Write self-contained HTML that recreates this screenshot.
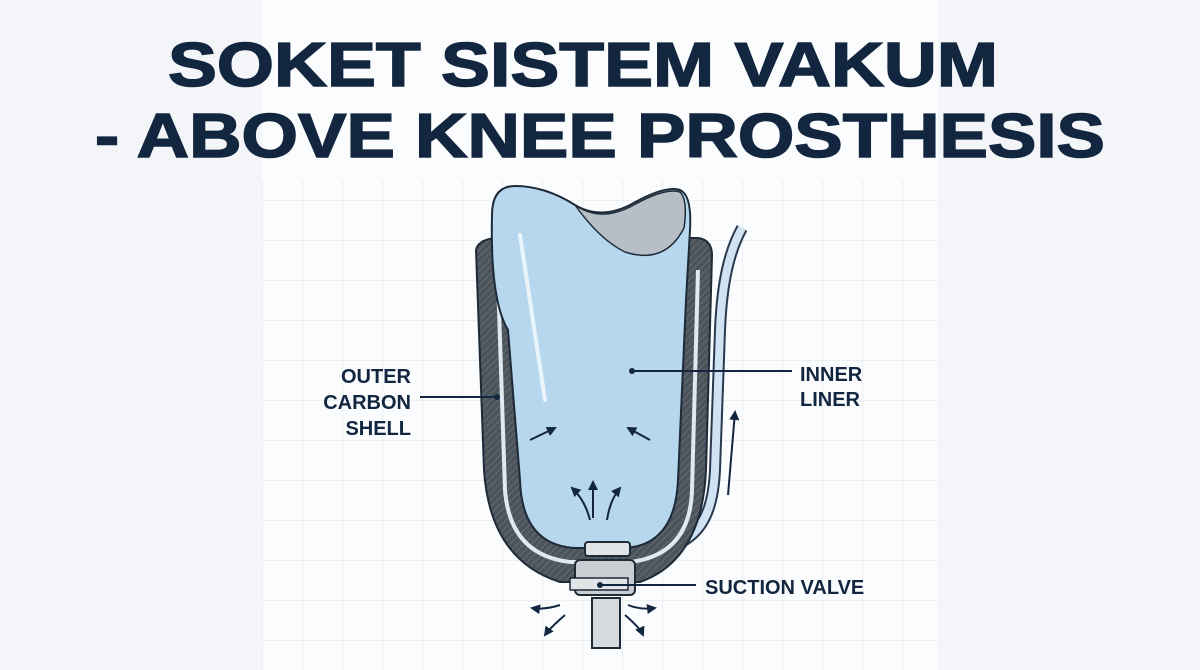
<!DOCTYPE html>
<html><head><style>
html,body{margin:0;padding:0;background:#f3f5f8;}
svg{display:block}
text{font-family:"Liberation Sans",sans-serif;font-weight:bold;fill:#12263f}
</style></head><body>
<svg width="1200" height="670" viewBox="0 0 1200 670" xmlns="http://www.w3.org/2000/svg">
<defs>
<pattern id="g" width="40" height="40" patternUnits="userSpaceOnUse" x="262" y="0">
<path d="M0 0H40M0 0V40" stroke="#dde2e8" stroke-width="1" fill="none"/>
</pattern>
<pattern id="h" width="5" height="5" patternUnits="userSpaceOnUse" patternTransform="rotate(45)">
<rect width="5" height="5" fill="#4c535b"/><path d="M0 0V5" stroke="#6b727a" stroke-width="1.5"/>
</pattern>
<marker id="a" markerWidth="5" markerHeight="5" refX="4" refY="2.5" orient="auto" markerUnits="strokeWidth"><path d="M0 0L5 2.5L0 5z" fill="#12263f"/></marker>
</defs>
<rect width="1200" height="670" fill="#f3f5f8"/>
<rect x="262" y="0" width="676" height="670" fill="#fbfcfd"/>
<rect x="262" y="180" width="676" height="490" fill="url(#g)"/>
<text x="168" y="86" font-size="62" textLength="830" lengthAdjust="spacingAndGlyphs" stroke="#12263f" stroke-width="1.5">SOKET SISTEM VAKUM</text>
<text x="95" y="157" font-size="62" textLength="1010" lengthAdjust="spacingAndGlyphs" stroke="#12263f" stroke-width="1.5">- ABOVE KNEE PROSTHESIS</text>
<!-- tube -->
<path d="M622 555 C690 552 712 530 715 470 L720 330 C722 280 730 250 742 228" stroke="#2a3a4e" stroke-width="12" fill="none"/>
<path d="M622 555 C690 552 712 530 715 470 L720 330 C722 280 730 250 742 228" stroke="#cfe3f2" stroke-width="8" fill="none"/>
<!-- shell -->
<path d="M476 250 Q478 240 495 238 L698 238 Q712 240 712 255 L706 470 Q702 560 640 582 L560 582 Q490 560 484 470 Z" fill="url(#h)" stroke="#1d2a38" stroke-width="2"/>
<path d="M498 280 L505 490 Q510 555 570 562 L630 562 Q690 555 692 490 L698 270" fill="none" stroke="#dfe9f2" stroke-width="4"/>
<!-- liner -->
<path d="M492 215 Q492 186 515 186 Q545 186 575 205 Q600 220 630 205 Q665 185 680 190 Q692 195 690 230 L686 300 L678 480 Q675 545 625 548 L575 548 Q522 545 520 480 L508 330 Q490 300 492 215 Z" fill="#b7d7ee" stroke="#1d2a38" stroke-width="2"/>
<path d="M575 205 Q600 222 630 207 Q665 187 680 192 Q688 200 684 228 Q665 265 625 252 Q600 240 575 205Z" fill="#b7bfc6" stroke="#1d2a38" stroke-width="1.5"/>
<path d="M520 235 L545 400" stroke="#eaf4fb" stroke-width="4" stroke-linecap="round"/>
<!-- valve -->
<rect x="575" y="560" width="60" height="35" rx="5" fill="#c9ced3" stroke="#1d2a38" stroke-width="2"/>
<rect x="585" y="542" width="45" height="14" rx="3" fill="#e1e5e8" stroke="#1d2a38" stroke-width="2"/>
<rect x="570" y="578" width="58" height="12" fill="#e1e5e8" stroke="#1d2a38" stroke-width="1.5"/>
<rect x="592" y="598" width="28" height="50" fill="#d5dadf" stroke="#1d2a38" stroke-width="2"/>
<!-- arrows -->
<g stroke="#12263f" stroke-width="2" fill="none" marker-end="url(#a)">
<path d="M530 440 L555 428"/><path d="M650 440 L628 428"/>
<path d="M590 520 Q585 500 572 488"/><path d="M593 518 L593 482"/><path d="M607 520 Q610 500 620 488"/>
<path d="M560 605 Q545 610 532 608"/><path d="M565 615 Q550 628 545 635"/>
<path d="M628 605 Q640 610 655 608"/><path d="M625 615 Q640 628 643 635"/>
<path d="M728 495 L735 412"/>
</g>
<!-- leaders -->
<g stroke="#12263f" stroke-width="2"><path d="M420 397 L497 397"/><path d="M632 371 L792 371"/><path d="M600 585 L696 585"/></g>
<circle cx="497" cy="397" r="3" fill="#12263f"/><circle cx="632" cy="371" r="3" fill="#12263f"/><circle cx="600" cy="585" r="3" fill="#12263f"/>
<g font-size="20">
<text x="411" y="383" text-anchor="end">OUTER</text>
<text x="411" y="409" text-anchor="end">CARBON</text>
<text x="411" y="435" text-anchor="end">SHELL</text>
<text x="800" y="381">INNER</text>
<text x="800" y="406">LINER</text>
<text x="705" y="594">SUCTION VALVE</text>
</g>
</svg>
</body></html>
